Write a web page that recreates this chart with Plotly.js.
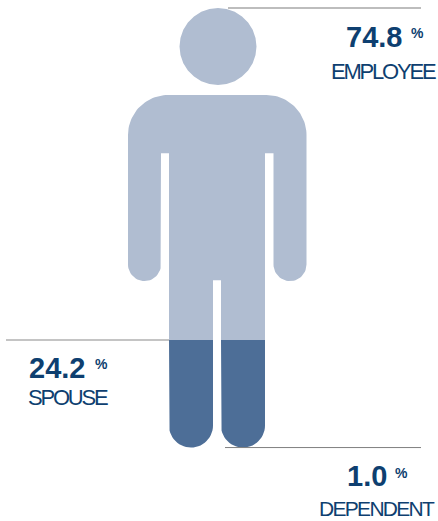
<!DOCTYPE html>
<html>
<head>
<meta charset="utf-8">
<script src="https://cdn.plot.ly/plotly-3.0.1.min.js"></script>
<style>
  html, body { margin: 0; padding: 0; background: #fff; }
  #chart { width: 438px; height: 521px; }
  /* Tight tracking on the category captions */
  .annotation[data-index="2"] .annotation-text,
  .annotation[data-index="5"] .annotation-text { letter-spacing: -2.2px; }
  .annotation[data-index="8"] .annotation-text { letter-spacing: -1.7px; }
</style>
</head>
<body>
<div id="chart"></div>
<script>
// Share of covered members by relationship, stacked from the feet up
const categories = ["EMPLOYEE", "SPOUSE", "DEPENDENT"];
const shares = [74.8, 24.2, 1.0];

const LIGHT = "#b0bdd1";
const DARK = "#4d6e97";
const INK = "#0e3f70";

// Vertical scale: x axis runs in screen units, y axis in percent of the figure
const UNITS_PER_PCT = 4.44;
const [employee, spouse, dependent] = shares;
const feet = dependent;
const waterline = dependent + spouse;
const crown = waterline + employee;

// Elliptical arc sampled into outline points (radius given in x units)
function arc(cx, cy, r, from, to) {
  const xs = [], ys = [], n = 28;
  for (let i = 0; i <= n; i++) {
    const a = (from + (to - from) * i / n) * Math.PI / 180;
    xs.push(cx + r * Math.cos(a));
    ys.push(cy + r * Math.sin(a) / UNITS_PER_PCT);
  }
  return [xs, ys];
}

function outline(parts) {
  const xs = [], ys = [];
  parts.forEach(p => { xs.push(...p[0]); ys.push(...p[1]); });
  return [xs, ys];
}
const pt = (x, y) => [[x], [y]];
const GAP = [[null], [null]];

// Figure proportions
const head = { cx: 218, r: 38.5 };
const shoulderTop = 80.4, armpit = 67.3, armEnd = 38.5, crotch = 38.7;
const body = { l: 128, r: 306.5, armW: 33, torsoL: 169, torsoR: 265, legGapL: 213, legGapR: 221, corner: 40 };

const rY = r => r / UNITS_PER_PCT;
const armR = body.armW / 2;

const upper = outline([
  arc(head.cx, crown - rY(head.r), head.r, 0, 360),
  GAP,
  pt(body.torsoL, waterline),
  pt(body.torsoL, armpit),
  pt(body.l + body.armW, armpit),
  arc(body.l + armR, armEnd + rY(armR), armR, 0, -180),
  arc(body.l + body.corner, shoulderTop - rY(body.corner), body.corner, 180, 90),
  arc(body.r - body.corner, shoulderTop - rY(body.corner), body.corner, 90, 0),
  arc(body.r - armR, armEnd + rY(armR), armR, 0, -180),
  pt(body.r - body.armW, armpit),
  pt(body.torsoR, armpit),
  pt(body.torsoR, waterline),
  pt(body.legGapR, waterline),
  pt(body.legGapR, crotch),
  pt(body.legGapL, crotch),
  pt(body.legGapL, waterline),
  pt(body.torsoL, waterline)
]);

function leg(l, r) {
  const rad = (r - l) / 2;
  return outline([
    pt(l, waterline),
    arc(l + rad, feet + rY(rad), rad, 180, 360),
    pt(r, waterline),
    pt(l, waterline)
  ]);
}
const legA = leg(body.torsoL, body.legGapL);
const legB = leg(body.legGapR, body.torsoR);
const lower = outline([legA, GAP, legB]);

const silhouette = [
  { x: upper[0], y: upper[1], name: categories[0], fillcolor: LIGHT },
  { x: lower[0], y: lower[1], name: categories[1], fillcolor: DARK }
].map(t => ({ ...t, type: "scatter", mode: "lines", fill: "toself", line: { width: 0 }, hoverinfo: "name" }));

// Leader lines sit on the cumulative levels
const leaders = [
  { x: [228, 421], y: [crown, crown], color: "#bdbdbd", width: 2 },
  { x: [6, 169], y: [waterline, waterline], color: "#c4c4c4", width: 2 },
  { x: [225, 421], y: [feet, feet], color: "#7f7f7f", width: 1 }
].map(l => ({ type: "scatter", mode: "lines", x: l.x, y: l.y, line: { color: l.color, width: l.width }, hoverinfo: "skip" }));

const yAt = px => (452 - px) / UNITS_PER_PCT;
const label = (x, px, text, size, bold) => ({
  x, y: yAt(px), xref: "x", yref: "y", text: bold ? "<b>" + text + "</b>" : text,
  showarrow: false, xanchor: "left", yanchor: "middle", align: "left", borderpad: 0,
  font: { family: "Liberation Sans, Arial, sans-serif", size, color: INK }
});

const fmt = v => v.toFixed(1);
const annotations = [
  label(345, 37, fmt(employee), 29, true),
  label(410, 33, "%", 14, true),
  label(330, 71, categories[0], 22, false),
  label(28, 368, fmt(spouse), 29, true),
  label(94, 364, "%", 14, true),
  label(27, 397, categories[1], 22, false),
  label(346, 476, fmt(dependent), 29, true),
  label(394, 473, "%", 14, true),
  label(318, 508, categories[2], 21, false)
];

const layout = {
  width: 438, height: 521,
  margin: { l: 0, r: 0, t: 0, b: 0 },
  paper_bgcolor: "#fff", plot_bgcolor: "#fff",
  showlegend: false,
  xaxis: { range: [0, 438], visible: false, fixedrange: true },
  yaxis: { range: [yAt(521), yAt(0)], visible: false, fixedrange: true },
  annotations
};

Plotly.newPlot("chart", [...silhouette, ...leaders], layout, { displayModeBar: false, staticPlot: true });
</script>
</body>
</html>
